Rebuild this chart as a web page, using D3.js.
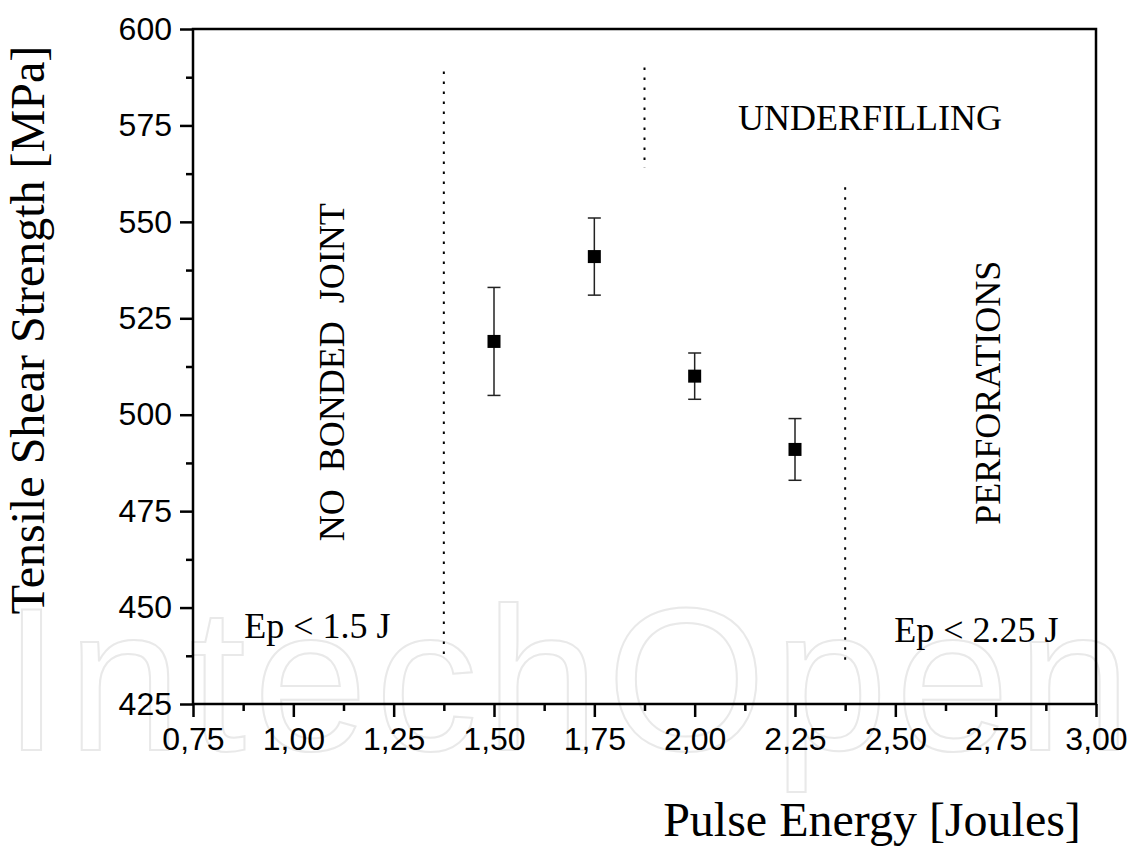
<!DOCTYPE html>
<html>
<head>
<meta charset="utf-8">
<script src="https://cdn.jsdelivr.net/npm/d3@7"></script>
<style>
body { margin: 0; background: #fff; }
.tick text { font-family: "Liberation Sans", Arial, sans-serif; font-size: 32px; fill: #000; }
.serif { font-family: "Liberation Serif", "Times New Roman", serif; fill: #000; }
</style>
</head>
<body>
<div id="chart"></div>
<script>
// data
var energy   = [1.50, 1.75, 2.00, 2.25];
var strength = [519, 541, 510, 491];
var errLow   = [505, 531, 504, 483];
var errHigh  = [533, 551, 516, 499];

var xTicks = [0.75, 1.00, 1.25, 1.50, 1.75, 2.00, 2.25, 2.50, 2.75, 3.00];
var yTicks = [425, 450, 475, 500, 525, 550, 575, 600];

// dotted region boundaries: x, from, to
var bndX    = [1.375, 1.875, 2.375];
var bndFrom = [437, 564, 436];
var bndTo   = [589, 590, 559];

var W = 1136, H = 847;
var margin = {left: 193, top: 29, right: 40, bottom: 143};
var w = W - margin.left - margin.right;
var h = H - margin.top - margin.bottom;

var svg = d3.select("#chart").append("svg")
    .attr("width", W)
    .attr("height", H);

// watermark
svg.append("text")
    .attr("x", 3)
    .attr("y", 750)
    .attr("textLength", 1128)
    .attr("lengthAdjust", "spacing")
    .style("font-family", "'Liberation Sans', Arial, sans-serif")
    .style("font-size", "205px")
    .attr("fill", "none")
    .attr("stroke", "#e9e9e9")
    .attr("stroke-width", 2)
    .text("IntechOpen");

var g = svg.append("g")
    .attr("transform", "translate(" + margin.left + "," + margin.top + ")");

var x = d3.scaleLinear().domain([0.75, 3.00]).range([0, w]);
var y = d3.scaleLinear().domain([425, 600]).range([h, 0]);

var fmt = function(d){ return d3.format(".2f")(d).replace(".", ","); };

// minor ticks
g.append("g")
    .attr("transform", "translate(0," + h + ")")
    .call(d3.axisBottom(x).tickValues(d3.range(0.875, 3, 0.25)).tickSize(7).tickFormat(""))
    .call(function(s){ s.select(".domain").remove(); s.selectAll("line").attr("stroke-width", 2.5); });
g.append("g")
    .call(d3.axisLeft(y).tickValues(d3.range(437.5, 600, 25)).tickSize(7).tickFormat(""))
    .call(function(s){ s.select(".domain").remove(); s.selectAll("line").attr("stroke-width", 2.5); });

// major ticks
g.append("g")
    .attr("transform", "translate(0," + h + ")")
    .call(d3.axisBottom(x).tickValues(xTicks).tickSize(13).tickPadding(10).tickFormat(fmt))
    .call(function(s){ s.select(".domain").remove(); s.selectAll("line").attr("stroke-width", 2.5); });
g.append("g")
    .call(d3.axisLeft(y).tickValues(yTicks).tickSize(13).tickPadding(8))
    .call(function(s){ s.select(".domain").remove(); s.selectAll("line").attr("stroke-width", 2.5); });

// frame
g.append("rect")
    .attr("width", w)
    .attr("height", h)
    .attr("fill", "none")
    .attr("stroke", "#000")
    .attr("stroke-width", 2.5);

// dotted boundaries
g.selectAll(".bnd")
    .data(bndX)
    .enter().append("line")
    .attr("class", "bnd")
    .attr("x1", function(d){ return x(d); })
    .attr("x2", function(d){ return x(d); })
    .attr("y1", function(d, i){ return y(bndTo[i]); })
    .attr("y2", function(d, i){ return y(bndFrom[i]); })
    .attr("stroke", "#000")
    .attr("stroke-width", 2)
    .attr("stroke-dasharray", "2.5,7.5");

// error bars
var pts = g.selectAll(".pt")
    .data(energy)
    .enter().append("g")
    .attr("class", "pt");

pts.append("line")
    .attr("x1", function(d){ return x(d); })
    .attr("x2", function(d){ return x(d); })
    .attr("y1", function(d, i){ return y(errLow[i]); })
    .attr("y2", function(d, i){ return y(errHigh[i]); })
    .attr("stroke", "#222")
    .attr("stroke-width", 1.5);
pts.append("line")
    .attr("x1", function(d){ return x(d) - 6.5; })
    .attr("x2", function(d){ return x(d) + 6.5; })
    .attr("y1", function(d, i){ return y(errLow[i]); })
    .attr("y2", function(d, i){ return y(errLow[i]); })
    .attr("stroke", "#222")
    .attr("stroke-width", 1.5);
pts.append("line")
    .attr("x1", function(d){ return x(d) - 6.5; })
    .attr("x2", function(d){ return x(d) + 6.5; })
    .attr("y1", function(d, i){ return y(errHigh[i]); })
    .attr("y2", function(d, i){ return y(errHigh[i]); })
    .attr("stroke", "#222")
    .attr("stroke-width", 1.5);
pts.append("rect")
    .attr("x", function(d){ return x(d) - 6.5; })
    .attr("y", function(d, i){ return y(strength[i]) - 6.5; })
    .attr("width", 13)
    .attr("height", 13)
    .attr("fill", "#000");

// region labels
g.append("text")
    .attr("class", "serif")
    .attr("x", x(2.437))
    .attr("y", y(573.8))
    .attr("text-anchor", "middle")
    .style("font-size", "36px")
    .text("UNDERFILLING");

g.append("text")
    .attr("class", "serif")
    .attr("transform", "translate(" + (x(1.11) + 7) + "," + y(511) + ") rotate(-90)")
    .attr("text-anchor", "middle")
    .style("font-size", "36px")
    .style("white-space", "pre")
    .attr("xml:space", "preserve")
    .text("NO  BONDED  JOINT");

g.append("text")
    .attr("class", "serif")
    .attr("transform", "translate(" + (x(2.73) + 12) + "," + (y(507) + 5) + ") rotate(-90)")
    .attr("text-anchor", "middle")
    .style("font-size", "36px")
    .text("PERFORATIONS");

g.append("text")
    .attr("class", "serif")
    .attr("x", x(1.08) - 8)
    .attr("y", y(442))
    .attr("text-anchor", "middle")
    .style("font-size", "36px")
    .text("Ep < 1.5 J");

g.append("text")
    .attr("class", "serif")
    .attr("x", x(2.697) + 2)
    .attr("y", y(441))
    .attr("text-anchor", "middle")
    .style("font-size", "36px")
    .text("Ep < 2.25 J");

// axis titles
svg.append("text")
    .attr("class", "serif")
    .attr("x", 872)
    .attr("y", 836)
    .attr("text-anchor", "middle")
    .style("font-size", "48px")
    .text("Pulse Energy [Joules]");

svg.append("text")
    .attr("class", "serif")
    .attr("transform", "translate(44,330) rotate(-90)")
    .attr("text-anchor", "middle")
    .style("font-size", "48px")
    .text("Tensile Shear Strength [MPa]");
</script>
</body>
</html>
